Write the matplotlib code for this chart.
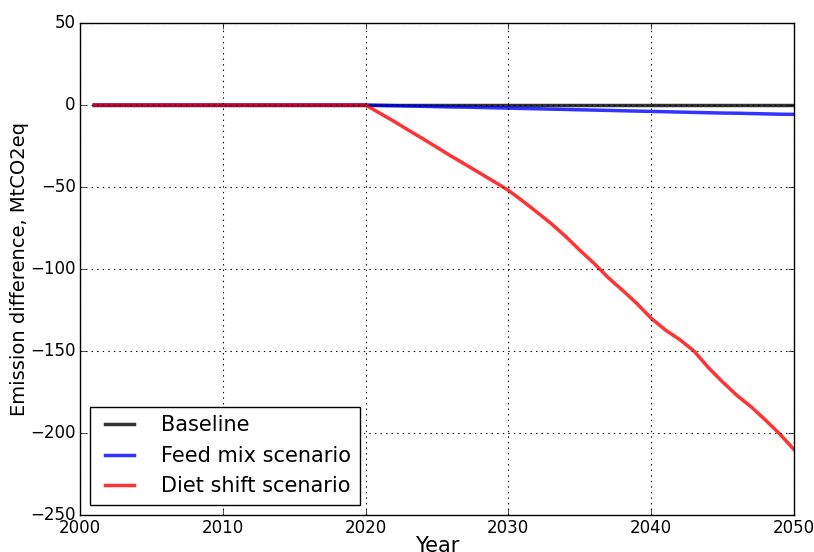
import numpy as np
import matplotlib
matplotlib.use('Agg')
import matplotlib.pyplot as plt

# Years and emission difference per scenario (MtCO2eq)
years = list(range(2001, 2051))
baseline = [0.0] * len(years)
feed_mix = [0.0] * 20 + [-0.2, -0.4, -0.6, -0.8, -1.0, -1.2, -1.3, -1.5, -1.7,
                         -1.9, -2.1, -2.3, -2.5, -2.7, -2.9, -3.1, -3.3, -3.5, -3.7,
                         -3.9, -4.1, -4.3, -4.5, -4.7, -4.9, -5.0, -5.2, -5.4, -5.6, -5.7]
diet_shift = [0.0] * 20 + [-5.0, -10.0, -15.3, -20.5, -25.8, -31.2, -36.3, -41.5, -46.7,
                           -52.0, -58.5, -65.3, -72.3, -80.0, -88.5, -96.5, -105.3, -113.0, -121.0,
                           -130.0, -137.2, -143.0, -150.0, -160.0, -168.8, -177.0, -184.0, -192.0,
                           -200.5, -210.0]

labels = ['Baseline', 'Feed mix scenario', 'Diet shift scenario']
colors = ['k', 'b', 'r']

plt.style.use('classic')
fig = plt.figure(figsize=(8.14, 5.52), dpi=100, facecolor='white')
ax = fig.add_axes([0.0983, 0.067, 0.877, 0.8913])

for series, label, color in zip([baseline, feed_mix, diet_shift], labels, colors):
    ax.plot(years, series, color=color, linewidth=2.5, alpha=0.8, label=label)

ax.set_xlim(2000, 2050)
ax.set_ylim(-250, 50)
ax.set_xticks(np.arange(2000, 2051, 10))
ax.set_yticks(np.arange(-250, 51, 50))
ax.ticklabel_format(useOffset=False)
ax.tick_params(labelsize=12, pad=3)
ax.set_axisbelow(False)
ax.grid(True, color='k', linestyle=':', linewidth=0.8)

ax.set_xlabel('Year', fontsize=15, labelpad=-1)
ax.set_ylabel('Emission difference, MtCO2eq', fontsize=14, labelpad=1)
leg = ax.legend(loc='lower left', fontsize=15, borderaxespad=0.5,
                handletextpad=1.0, labelspacing=0.5)

fig.savefig('out.png', dpi=100, facecolor='white')
